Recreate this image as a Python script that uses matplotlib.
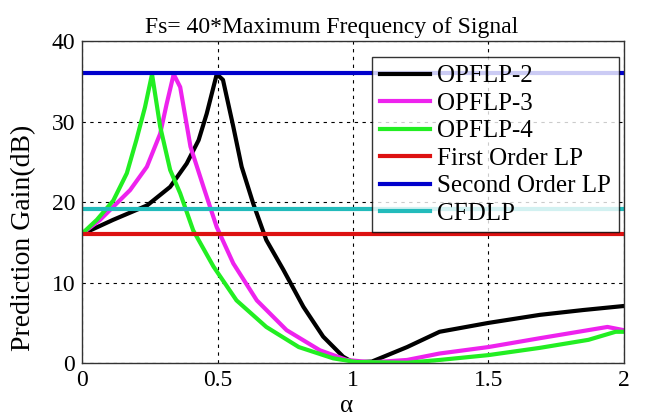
import matplotlib
matplotlib.use("Agg")
import matplotlib.pyplot as plt

# prediction gain (dB) vs alpha for the fractional-order predictors
alpha_2 = [0, 0.03, 0.114, 0.24, 0.325, 0.386, 0.43, 0.46, 0.497, 0.52, 0.558, 0.589, 0.632, 0.68,
           0.743, 0.817, 0.89, 0.964, 1.0, 1.07, 1.2, 1.32, 1.5, 1.69, 1.85, 2.0]
gain_2 = [16.1, 16.5, 17.8, 19.6, 21.9, 24.8, 27.7, 31.0, 35.9, 35.2, 29.4, 24.4, 19.8, 15.3,
          11.6, 7.0, 3.3, 0.8, 0.1, 0.2, 2.0, 3.9, 5.0, 6.0, 6.6, 7.1]

alpha_3 = [0, 0.066, 0.177, 0.239, 0.288, 0.312, 0.338, 0.362, 0.4, 0.448, 0.497, 0.558, 0.645,
           0.755, 0.878, 0.977, 1.07, 1.2, 1.32, 1.5, 1.69, 1.94, 2.0]
gain_3 = [16.1, 17.8, 21.5, 24.4, 28.5, 32.2, 35.9, 34.3, 26.9, 21.9, 16.9, 12.4, 7.8,
          4.1, 1.6, 0.4, 0.1, 0.4, 1.2, 2.0, 3.1, 4.5, 4.1]

alpha_4 = [0, 0.054, 0.115, 0.165, 0.2, 0.232, 0.258, 0.288, 0.325, 0.362, 0.41, 0.485, 0.57,
           0.68, 0.80, 0.927, 1.01, 1.2, 1.32, 1.5, 1.69, 1.87, 1.97, 2.0]
gain_4 = [16.1, 17.8, 20.2, 23.6, 27.7, 31.8, 35.9, 29.4, 24.0, 21.1, 16.5, 12.0, 7.8,
          4.5, 2.0, 0.6, 0.15, 0.05, 0.4, 1.0, 1.9, 2.9, 3.9, 3.9]

alpha_const = [0, 2]
first_order = 16.1
second_order = 36.1
cfdlp = 19.1

plt.rcParams['font.family'] = ['Liberation Serif', 'DejaVu Serif']

fig = plt.figure(figsize=(6.47, 4.16), dpi=100)
ax = fig.add_axes([0.127, 0.127, 0.837, 0.774])

lw = 3
ax.plot(alpha_2, gain_2, color='black', lw=lw, label='OPFLP-2')
ax.plot(alpha_3, gain_3, color='#ee22ee', lw=lw, label='OPFLP-3')
ax.plot(alpha_4, gain_4, color='#22ee22', lw=lw, label='OPFLP-4')
ax.plot(alpha_const, [first_order] * 2, color='#dd1111', lw=lw, label='First Order LP')
ax.plot(alpha_const, [second_order] * 2, color='#0000cc', lw=lw, label='Second Order LP')
ax.plot(alpha_const, [cfdlp] * 2, color='#22bbbb', lw=lw, label='CFDLP')

ax.set_xlim(0, 2)
ax.set_ylim(0, 40)
ax.set_xticks([0, 0.5, 1, 1.5, 2])
ax.set_xticklabels(['0', '0.5', '1', '1.5', '2'])
ax.set_yticks([0, 10, 20, 30, 40])
ax.tick_params(labelsize=17, direction='in', length=0, pad=5)
ax.grid(True, color='black', linestyle=(0, (3, 4)), lw=0.8)
for s in ax.spines.values():
    s.set_linewidth(1.0)
    s.set_color('#333333')

ax.set_title('Fs= 40*Maximum Frequency of Signal', fontsize=17, pad=6, x=0.46)
ax.set_xlabel('α', fontsize=18)
ax.xaxis.set_label_coords(0.489, -0.1)
ax.set_ylabel('Prediction Gain(dB)', fontsize=20)
ax.yaxis.set_label_coords(-0.085, 0.39)

leg = ax.legend(loc='upper right', bbox_to_anchor=(0.991, 0.95), fontsize=18, frameon=True, fancybox=False,
                edgecolor='black', handlelength=2.0, handletextpad=0.3, labelspacing=0.2,
                borderpad=0.3, borderaxespad=0)
leg.get_frame().set_linewidth(1.0)

fig.savefig('out.png', dpi=100)
